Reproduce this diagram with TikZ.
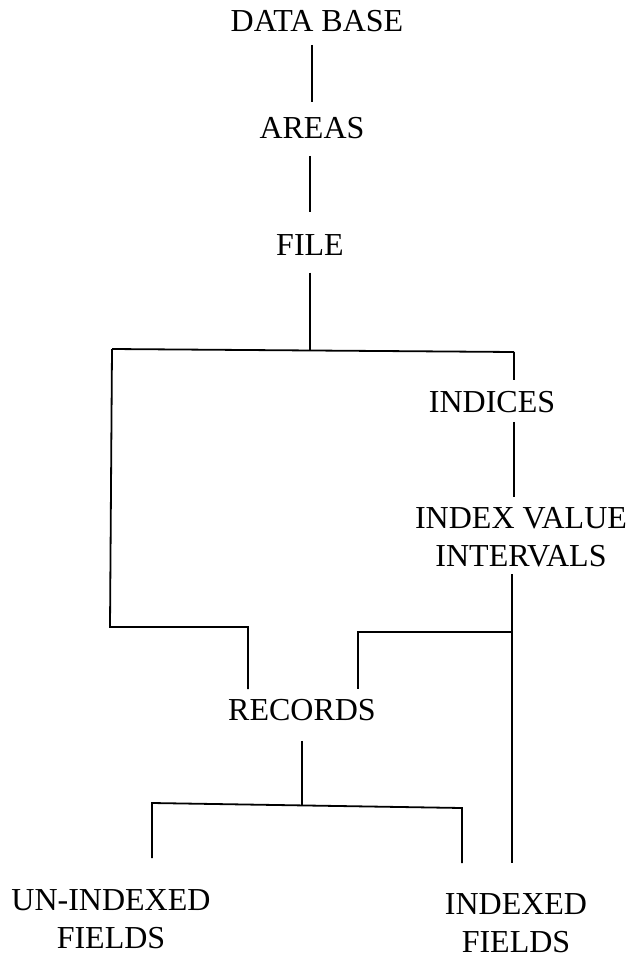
\documentclass[tikz,border=0pt]{standalone}
\usepackage{fontspec}
\setmainfont{Liberation Serif}
\usetikzlibrary{calc}

\begin{document}
\begin{tikzpicture}[
    x=1pt, y=-1pt,
    every node/.style={inner sep=0pt, align=center, font=\fontsize{32}{38}\selectfont},
    link/.style={draw=black, line width=1.8pt}
]
\useasboundingbox (0,0) rectangle (632,959);
\node (db) at (317,21) {DATA BASE};
\node (areas) at (312,128) {AREAS};
\node (file) at (310,245) {FILE};
\node (indices) at (492,402) {INDICES};
\node (ivi) at (521,537) {INDEX VALUE\\INTERVALS};
\node (rec) at (302,710) {RECORDS};
\node (unidx) at (111,919) {UN-INDEXED\\FIELDS};
\node (idx) at (516,923) {INDEXED\\FIELDS};

\coordinate (fork) at (310,350);
\coordinate (tl) at (112,349);
\coordinate (tr) at (514,352);
\coordinate (bl) at (110,627);
\coordinate (lj) at (248,627);
\coordinate (rj) at (512,632);
\coordinate (rl) at (358,632);
\coordinate (rfork) at (302,805);
\coordinate (fl) at (152,803);
\coordinate (fr) at (462,808);

\draw[link, shorten <=13pt, shorten >=15pt] (db.south -| areas) -- (areas.north);
\draw[link, shorten <=17pt, shorten >=22pt] (areas.south -| file) -- (file.north);
\draw[link, shorten <=17pt] (file.south) -- (fork);
\draw[link] (tl) -- (tr);
\draw[link, shorten >=11pt] (tr) -- (tr |- indices.north);
\draw[link, shorten <=9pt, shorten >=10pt] (tr |- indices.south) -- (tr |- ivi.north);
\draw[link, shorten <=7pt, shorten >=30pt] (rj |- ivi.south) -- (rj |- idx.north);
\draw[link, shorten >=10pt] (tl) -- (bl) -- (lj) -- (lj |- rec.north);
\draw[link, shorten >=10pt] (rj) -- (rl) -- (rl |- rec.north);
\draw[link, shorten <=20pt] (rec.south) -- (rfork);
\draw[link, shorten <=31pt, shorten >=30pt] (fl |- unidx.north) -- (fl) -- (fr) -- (fr |- idx.north);
\end{tikzpicture}
\end{document}
